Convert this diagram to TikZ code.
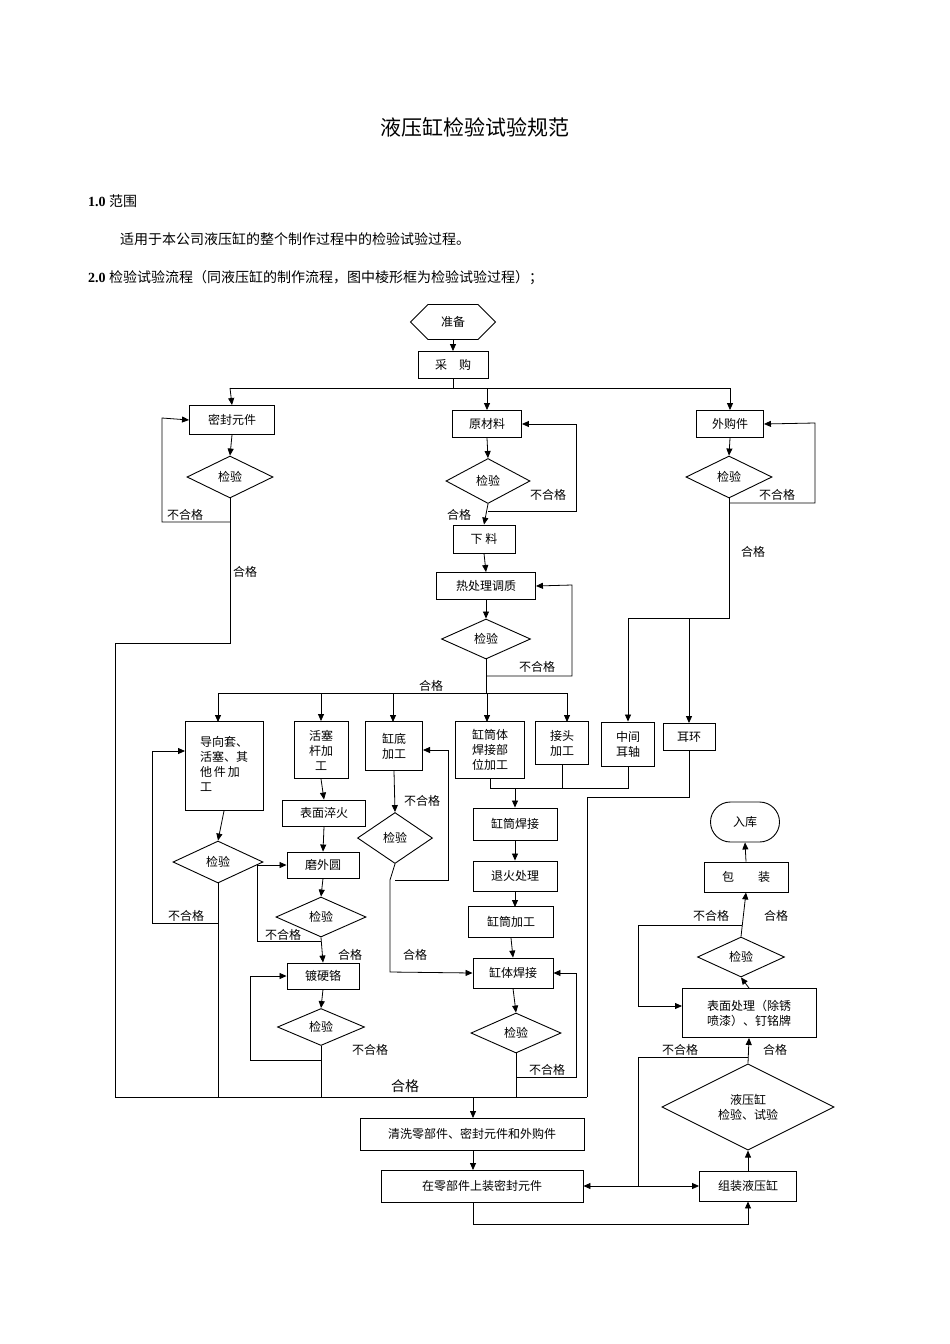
\documentclass[tikz,border=0pt]{standalone}
\usepackage{fontspec}
\setmainfont{Liberation Serif}
\newfontfamily\cjk{Noto Sans CJK SC}
\usetikzlibrary{shapes.geometric,shapes.misc,arrows.meta}
\begin{document}
\begin{tikzpicture}[x=1pt,y=-1pt,
  ln/.style={line width=0.8pt},
  arr/.style={ln,-{Triangle[length=7pt,width=6pt]}},
  darr/.style={ln,{Triangle[length=7pt,width=6pt]}-{Triangle[length=7pt,width=6pt]}},
  box/.style={draw,line width=0.9pt,inner sep=0pt,align=center,font=\cjk\fontsize{12}{15}\selectfont},
  dia/.style={draw,diamond,line width=0.9pt,inner sep=0pt,align=center,font=\cjk\fontsize{12}{15}\selectfont},
  lab/.style={font=\cjk\fontsize{12}{14}\selectfont,inner sep=0pt}]
\useasboundingbox (0,0) rectangle (950,1344);
% texts
\node[font=\cjk\fontsize{21}{24}\selectfont] (title) at (475,127) {液压缸检验试验规范};
\node[anchor=west,font=\fontsize{14}{16}\selectfont,inner sep=0] (s1) at (88,201) {\textbf{1.0} {\cjk 范围}};
\node[anchor=west,font=\cjk\fontsize{14}{16}\selectfont,inner sep=0] (s1t) at (120,239) {适用于本公司液压缸的整个制作过程中的检验试验过程。};
\node[anchor=west,font=\fontsize{14}{16}\selectfont,inner sep=0] (s2) at (88,278) {\textbf{2.0} {\cjk 检验试验流程（同液压缸的制作流程，图中棱形框为检验试验过程）；}};
% nodes
\node[box,chamfered rectangle,chamfered rectangle xsep=12pt,chamfered rectangle ysep=14pt,minimum width=85,minimum height=28] (zb) at (453,322) {准备};
\node[box,minimum width=70,minimum height=27] (cg) at (453,365) {采\quad 购};
\node[box,minimum width=85,minimum height=29] (mf) at (232,420) {密封元件};
\node[dia,minimum width=86,minimum height=42] (d1) at (230,477) {检验};
\node[box,minimum width=69,minimum height=27] (ycl) at (487,424) {原材料};
\node[dia,minimum width=84,minimum height=45] (d2) at (488,481) {检验};
\node[box,minimum width=62,minimum height=28] (xl) at (484,539) {下\ 料};
\node[box,minimum width=99,minimum height=27] (rcl) at (486,586) {热处理调质};
\node[dia,minimum width=89,minimum height=40] (d3) at (486,639) {检验};
\node[box,minimum width=67,minimum height=27] (wgj) at (730,424) {外购件};
\node[dia,minimum width=86,minimum height=42] (d4) at (729,477) {检验};
\node[box,minimum width=78,minimum height=89] (dx) at (224,766) {\begin{tabular}{@{}l@{}}导向套、\\活塞、其\\他\,件\,加\\工\end{tabular}};
\node[box,minimum width=54,minimum height=57] (hs) at (321,750) {活塞\\杆加\\工};
\node[box,minimum width=57,minimum height=49] (gd) at (394,746) {缸底\\加工};
\node[box,minimum width=69,minimum height=57] (gtt) at (490,750) {缸筒体\\焊接部\\位加工};
\node[box,minimum width=53,minimum height=43] (jt) at (562,743) {接头\\加工};
\node[box,minimum width=53,minimum height=44] (zj) at (628,744) {中间\\耳轴};
\node[box,minimum width=52,minimum height=27] (eh) at (689,737) {耳环};
\node[dia,minimum width=90,minimum height=42] (d5) at (218,862) {检验};
\node[box,minimum width=83,minimum height=26] (bm) at (324,813) {表面淬火};
\node[box,minimum width=72,minimum height=26] (mwy) at (323,865) {磨外圆};
\node[dia,minimum width=90,minimum height=40] (d6) at (321,917) {检验};
\node[box,minimum width=72,minimum height=26] (dyg) at (323,976) {镀硬铬};
\node[dia,minimum width=87,minimum height=37] (d7) at (321,1027) {检验};
\node[dia,minimum width=75,minimum height=51] (d8) at (395,838) {检验};
\node[box,minimum width=84,minimum height=32] (gthj) at (515,824) {缸筒焊接};
\node[box,minimum width=84,minimum height=30] (th) at (515,876) {退火处理};
\node[box,minimum width=85,minimum height=31] (gtjg) at (511,922) {缸筒加工};
\node[box,minimum width=80,minimum height=30] (gthj2) at (513,973) {缸体焊接};
\node[dia,minimum width=90,minimum height=40] (d9) at (516,1033) {检验};
\node[box,minimum width=224,minimum height=32] (qx) at (472,1134) {清洗零部件、密封元件和外购件};
\node[box,minimum width=202,minimum height=32] (zm) at (482,1186) {在零部件上装密封元件};
\node[box,minimum width=97,minimum height=30] (zz) at (748,1186) {组装液压缸};
\node[dia,minimum width=172,minimum height=86] (dy) at (748,1107) {液压缸\\检验、试验};
\node[box,minimum width=134,minimum height=49] (bmcl) at (749,1013) {表面处理（除锈\\喷漆）、钉铭牌};
\node[dia,minimum width=87,minimum height=40] (d10) at (741,957) {检验};
\node[box,minimum width=84,minimum height=30] (bz) at (746,877) {包\qquad 装};
\node[box,rounded rectangle,minimum width=69,minimum height=40] (rk) at (745,822) {入库};
% top connectors
\draw[arr] (zb.south) -- (cg.north);
\draw[ln] (cg.south) -- (453,388);
\draw[arr] (230,388) -- (730,388) -- (wgj.north);
\draw[arr] (230,388) -- (mf.north);
\draw[arr] (487,388) -- (ycl.north);
\draw[arr] (mf.south) -- (d1.north);
\draw[arr] (230,522) -- (162,522) -- (162,418) -- (mf.west);
\draw[ln] (d1.south) -- (230,643) -- (115,643) -- (115,1097) -- (587,1097);
\draw[arr] (ycl.south) -- (d2.north);
\draw[arr] (d2.south) -- (xl.north);
\draw[arr] (488,511) -- (576,511) -- (576,424) -- (ycl.east);
\draw[arr] (xl.south) -- (rcl.north);
\draw[arr] (rcl.south) -- (d3.north);
\draw[arr] (486,676) -- (572,676) -- (572,585) -- (rcl.east);
\draw[ln] (d3.south) -- (486,693);
\draw[arr] (218,693) -- (567,693) -- (567,722);
\draw[arr] (218,693) -- (218,722);
\draw[arr] (321,693) -- (hs.north);
\draw[arr] (393,693) -- (393,722);
\draw[arr] (487,693) -- (487,722);
\draw[arr] (wgj.south) -- (d4.north);
\draw[arr] (729,503) -- (815,503) -- (815,423) -- (wgj.east);
\draw[ln] (d4.south) -- (729,618) -- (628,618);
\draw[arr] (628,618) -- (zj.north);
\draw[arr] (689,618) -- (eh.north);
% middle
\draw[ln] (gtt.south) -- (490,788) -- (628,788) -- (zj.south);
\draw[ln] (jt.south) -- (562,788);
\draw[arr] (515,788) -- (gthj.north);
\draw[ln] (eh.south) -- (689,797) -- (587,797) -- (587,1097);
\draw[arr] (dx.south) -- (d5.north);
\draw[arr] (218,923) -- (152,923) -- (152,751) -- (185,751);
\draw[ln] (d5.south) -- (218,1097);
\draw[arr] (hs.south) -- (bm.north);
\draw[arr] (bm.south) -- (mwy.north);
\draw[arr] (mwy.south) -- (d6.north);
\draw[arr] (d6.south) -- (dyg.north);
\draw[arr] (321,941) -- (257,941) -- (257,865) -- (mwy.west);
\draw[arr] (dyg.south) -- (d7.north);
\draw[arr] (321,1060) -- (250,1060) -- (250,976) -- (dyg.west);
\draw[ln] (d7.south) -- (321,1097);
\draw[arr] (gd.south) -- (d8.north);
\draw[arr] (395,880) -- (448,880) -- (448,750) -- (423,750);
\draw[arr] (d8.south) -- (390,880) -- (390,972) -- (gthj2.west);
\draw[arr] (gthj.south) -- (th.north);
\draw[arr] (th.south) -- (515,907);
\draw[arr] (gtjg.south) -- (gthj2.north);
\draw[arr] (gthj2.south) -- (d9.north);
\draw[arr] (516,1077) -- (576,1077) -- (576,973) -- (gthj2.east);
\draw[ln] (d9.south) -- (516,1097);
% bottom
\draw[arr] (473,1097) -- (473,1118);
\draw[arr] (473,1150) -- (473,1170);
\draw[darr] (zm.east) -- (zz.west);
\draw[arr] (473,1202) -- (473,1224) -- (748,1224) -- (zz.south);
\draw[arr] (zz.north) -- (dy.south);
\draw[arr] (dy.north) -- (bmcl.south);
\draw[ln] (748,1057) -- (638,1057) -- (638,1186);
\draw[arr] (bmcl.north) -- (d10.south);
\draw[arr] (d10.north) -- (bz.south);
\draw[arr] (742,925) -- (638,925) -- (638,1006) -- (682,1006);
\draw[arr] (bz.north) -- (rk.south);
% labels
\node[lab] (l1) at (185,515) {不合格};
\node[lab] (l2) at (245,572) {合格};
\node[lab] (l3) at (548,495) {不合格};
\node[lab] (l4) at (459,515) {合格};
\node[lab] (l5) at (537,667) {不合格};
\node[lab] (l6) at (431,686) {合格};
\node[lab] (l7) at (777,495) {不合格};
\node[lab] (l8) at (753,552) {合格};
\node[lab] (l9) at (186,916) {不合格};
\node[lab] (l10) at (283,935) {不合格};
\node[lab] (l11) at (350,955) {合格};
\node[lab] (l12) at (370,1050) {不合格};
\node[lab] (l13) at (422,801) {不合格};
\node[lab] (l14) at (415,955) {合格};
\node[lab] (l15) at (547,1070) {不合格};
\node[lab,font=\cjk\fontsize{14}{16}\selectfont] (l16) at (405,1086) {合格};
\node[lab] (l17) at (680,1050) {不合格};
\node[lab] (l18) at (775,1050) {合格};
\node[lab] (l19) at (711,916) {不合格};
\node[lab] (l20) at (776,916) {合格};
\end{tikzpicture}
\end{document}
